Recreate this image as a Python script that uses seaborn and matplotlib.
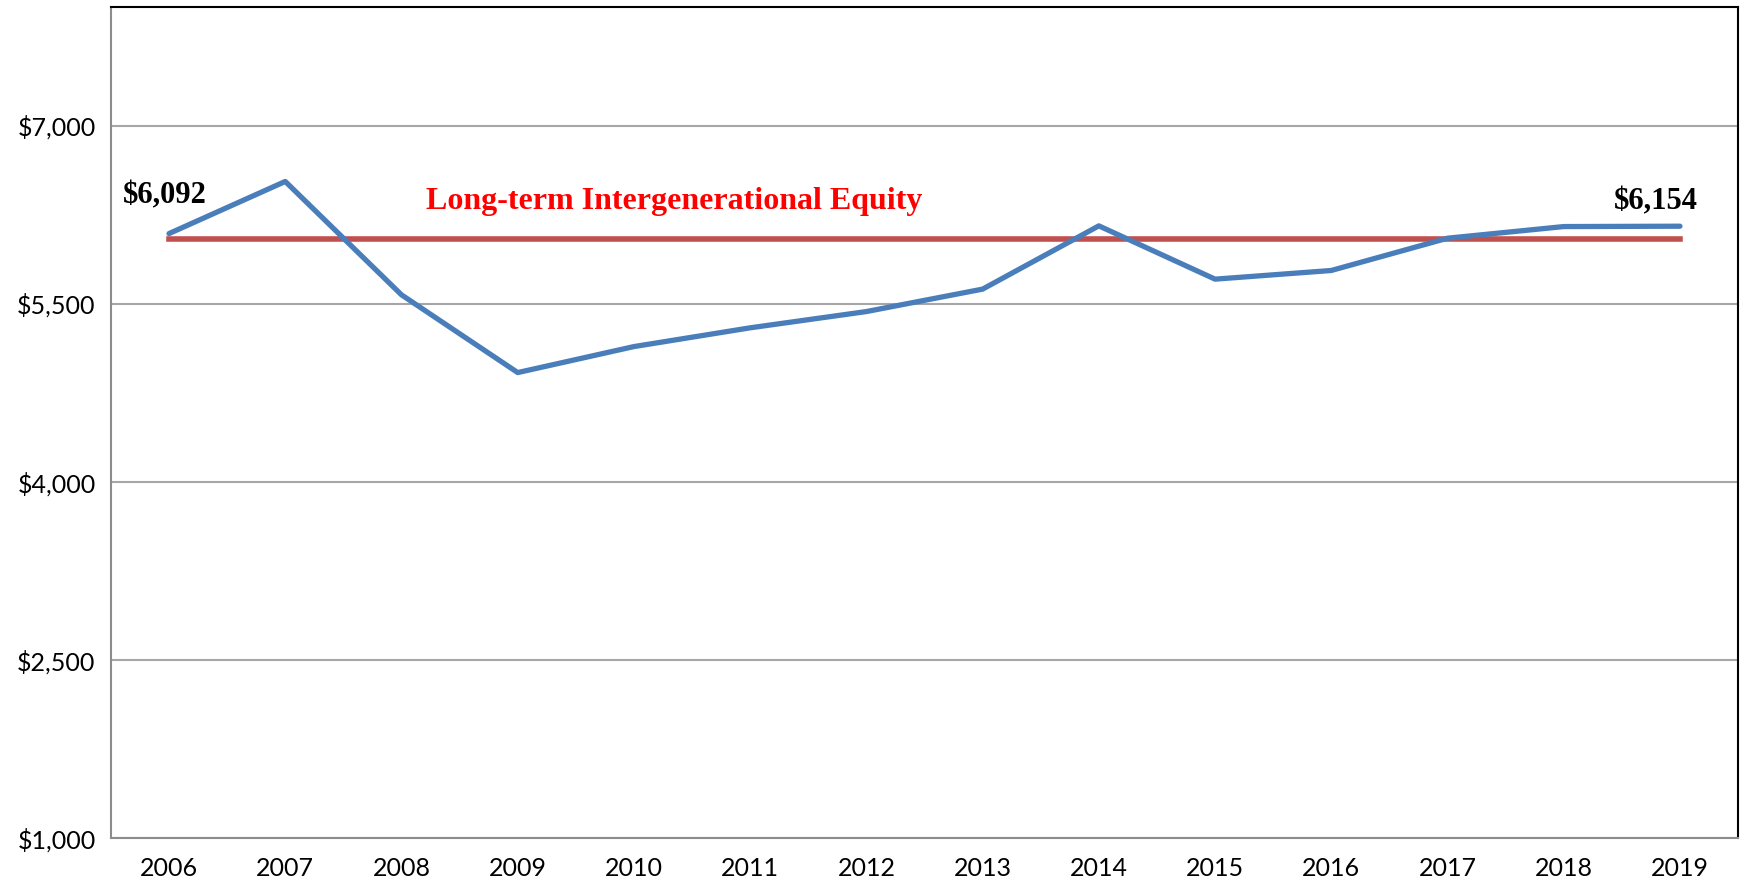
import matplotlib
matplotlib.use("Agg")
import matplotlib.pyplot as plt
import seaborn as sns
import pandas as pd
from matplotlib.ticker import FuncFormatter, FixedLocator

years = [2006, 2007, 2008, 2009, 2010, 2011, 2012, 2013, 2014, 2015, 2016, 2017, 2018, 2019]
values = [6092, 6531, 5576, 4921, 5140, 5298, 5435, 5624, 6157, 5708, 5781, 6053, 6151, 6154]
equity_level = [6045] * len(years)
y_ticks = [1000, 2500, 4000, 5500, 7000]

df = pd.DataFrame({"year": years, "value": values, "equity": equity_level})

sns.set_style("white")
fig = plt.figure(figsize=(17.44, 8.85), dpi=100)
ax = fig.add_axes([0.0636, 0.0531, 0.9330, 0.9389])

sns.lineplot(data=df, x="year", y="equity", ax=ax, color="#c0504d", linewidth=4.0,
             solid_capstyle="projecting")
sns.lineplot(data=df, x="year", y="value", ax=ax, color="#4a7ebb", linewidth=3.8,
             solid_capstyle="round")

ax.set_xlim(years[0] - 0.5, years[-1] + 0.5)
ax.set_ylim(1000, 8000)
ax.set_xlabel("")
ax.set_ylabel("")

ax.set_yticks(y_ticks)
ax.yaxis.set_major_formatter(FuncFormatter(lambda v, p: f"${int(v):,}"))
ax.set_xticks(years)
ax.set_xticklabels([str(y) for y in years])
ax.xaxis.set_minor_locator(FixedLocator([y + 0.5 for y in [years[0] - 1] + years]))

for lab in ax.get_xticklabels() + ax.get_yticklabels():
    lab.set_fontfamily("Lato")
    lab.set_fontsize(18)
    lab.set_color("black")

ax.tick_params(axis="x", which="major", length=0, pad=14)
ax.tick_params(axis="x", which="minor", length=7, width=1.2, color="#8c8c8c", direction="out")
ax.tick_params(axis="y", which="major", length=7, width=1.2, color="#8c8c8c", direction="out", pad=4)

ax.grid(axis="y", color="#a6a6a6", linewidth=1.5)
ax.set_axisbelow(True)

for side in ["left", "bottom"]:
    ax.spines[side].set_color("#8c8c8c")
    ax.spines[side].set_linewidth(1.5)
for side in ["top", "right"]:
    ax.spines[side].set_visible(True)
    ax.spines[side].set_color("black")
    ax.spines[side].set_linewidth(1.5)

serif = ["Liberation Serif", "DejaVu Serif"]
ax.text(2005.96, 6410, f"${values[0]:,}", ha="center", va="center", fontsize=22,
        fontweight="bold", family=serif, color="black")
ax.text(2018.79, 6355, f"${values[-1]:,}", ha="center", va="center", fontsize=22,
        fontweight="bold", family=serif, color="black")
ax.text(2010.35, 6360, "Long-term Intergenerational Equity", ha="center", va="center",
        fontsize=23, fontweight="bold", family=serif, color="#ff0000")

fig.savefig("out.png", dpi=100)
